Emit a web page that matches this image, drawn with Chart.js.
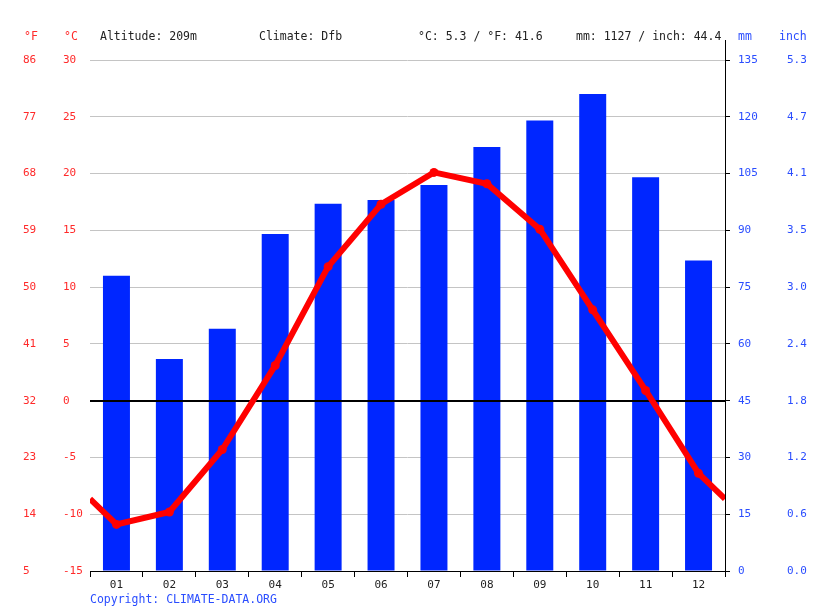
<!DOCTYPE html>
<html>
<head>
<meta charset="utf-8">
<script src="https://cdn.jsdelivr.net/npm/chart.js@4"></script>
<style>
  body { margin: 0; background: #fff; }
  #wrap { position: relative; width: 815px; height: 611px; }
  .t { position: absolute; font: 11.5px "DejaVu Sans Mono", monospace; white-space: pre; line-height: 14px; color: #222; }
  .red { color: #ff2a2a; }
  .blue { color: #2a4dff; }
</style>
</head>
<body>
<div id="wrap">
  <canvas id="climateChart" width="815" height="611"></canvas>
  <div class="t red" style="left:24px;top:29px">°F</div>
  <div class="t red" style="left:64px;top:29px">°C</div>
  <div class="t" style="left:100px;top:29px">Altitude: 209m</div>
  <div class="t" style="left:259px;top:29px">Climate: Dfb</div>
  <div class="t" style="left:418px;top:29px">°C: 5.3 / °F: 41.6</div>
  <div class="t" style="left:576px;top:29px">mm: 1127 / inch: 44.4</div>
  <div class="t blue" style="left:738px;top:29px">mm</div>
  <div class="t blue" style="left:779px;top:29px">inch</div>
  <div class="t blue" style="left:90px;top:592px">Copyright: CLIMATE-DATA.ORG</div>
</div>
<script>
const months = ["01", "02", "03", "04", "05", "06", "07", "08", "09", "10", "11", "12"]
const precipitation = [78, 56, 64, 89, 97, 98, 102, 112, 119, 126, 104, 82]
const temperature = [-10.9, -9.8, -4.3, 3.1, 11.8, 17.3, 20.1, 19.1, 15.1, 8.0, 0.9, -6.4]

const red = "#ff0000"
const labelRed = "#ff2a2a"
const labelBlue = "#2a4dff"
const barBlue = "#0026ff"
const font = { family: "'DejaVu Sans Mono', monospace", size: 11 }

// line runs out to both edges at the Dec/Jan midpoint
const edge = (temperature[0] + temperature[11]) / 2
const linePoints = [{ x: 0.5, y: edge }]
temperature.forEach((t, i) => linePoints.push({ x: i + 1, y: t }))
linePoints.push({ x: 12.5, y: edge })

const extras = {
    id: "extras",
    beforeDatasetDraw(chart, args) {
        if (args.index !== 1) return
        const ctx = chart.ctx
        const area = chart.chartArea
        const y0 = Math.round(chart.scales.y.getPixelForValue(0))
        ctx.save()
        ctx.strokeStyle = "#000"
        ctx.lineWidth = 2
        ctx.beginPath()
        ctx.moveTo(area.left, y0)
        ctx.lineTo(area.right, y0)
        ctx.stroke()
        ctx.restore()
    },
    afterDraw(chart) {
        const ctx = chart.ctx
        const x = Math.round(chart.scales.mm.left) + 0.5
        ctx.save()
        ctx.strokeStyle = "#000"
        ctx.lineWidth = 1
        ctx.beginPath()
        ctx.moveTo(x, chart.chartArea.top - 20)
        ctx.lineTo(x, chart.chartArea.top)
        ctx.stroke()
        ctx.restore()
    }
}

new Chart(document.getElementById("climateChart"), {
    type: "bar",
    data: {
        labels: months,
        datasets: [
            {
                label: "Precipitation",
                data: precipitation,
                backgroundColor: barBlue,
                xAxisID: "x",
                yAxisID: "mm",
                grouped: false,
                barPercentage: 0.51,
                categoryPercentage: 1,
                order: 2
            },
            {
                type: "line",
                label: "Temperature",
                data: linePoints,
                borderColor: red,
                backgroundColor: red,
                borderWidth: 6,
                pointRadius: ctx => (ctx.dataIndex === 0 || ctx.dataIndex === 13) ? 0 : 4.5,
                pointBorderWidth: 0,
                pointBackgroundColor: red,
                tension: 0,
                xAxisID: "xLine",
                yAxisID: "y",
                order: 1
            }
        ]
    },
    options: {
        responsive: false,
        animation: false,
        layout: { padding: { left: 23, right: 0, top: 60, bottom: 18 } },
        plugins: { legend: { display: false }, tooltip: { enabled: false } },
        scales: {
            x: {
                type: "category",
                offset: true,
                grid: { display: true, drawOnChartArea: false, tickLength: 6, color: "#000", offset: true },
                border: { color: "#000" },
                ticks: { color: "#222", font: font, padding: 2 },
                afterFit: s => { s.height = 22 }
            },
            xLine: { type: "linear", min: 0.5, max: 12.5, offset: false, display: false },
            y: {
                position: "left",
                weight: 0,
                min: -15,
                max: 30,
                ticks: { stepSize: 5, crossAlign: "far", color: labelRed, font: font, padding: 0 },
                grid: { color: ctx => ctx.tick.value === 0 ? "rgba(0,0,0,0)" : "#c4c4c4", drawTicks: false },
                border: { display: false },
                afterFit: s => { s.width = 27 }
            },
            yF: {
                position: "left",
                weight: 1,
                min: -15,
                max: 30,
                ticks: { stepSize: 5, crossAlign: "far", color: labelRed, font: font, padding: 0,
                    callback: v => Math.round(v * 9 / 5 + 32) },
                grid: { display: false },
                border: { display: false },
                afterFit: s => { s.width = 40 }
            },
            mm: {
                position: "right",
                weight: 0,
                min: 0,
                max: 135,
                ticks: { stepSize: 15, color: labelBlue, font: font, padding: 8 },
                grid: { drawOnChartArea: false, tickLength: 5, color: "#000" },
                border: { color: "#000" },
                afterFit: s => { s.width = 54 }
            },
            inch: {
                position: "right",
                weight: 1,
                min: 0,
                max: 135,
                ticks: { stepSize: 15, color: labelBlue, font: font, padding: 0,
                    callback: v => (v / 25.4).toFixed(1) },
                grid: { display: false },
                border: { display: false },
                afterFit: s => { s.width = 36 }
            }
        }
    },
    plugins: [extras]
})
</script>
</body>
</html>
